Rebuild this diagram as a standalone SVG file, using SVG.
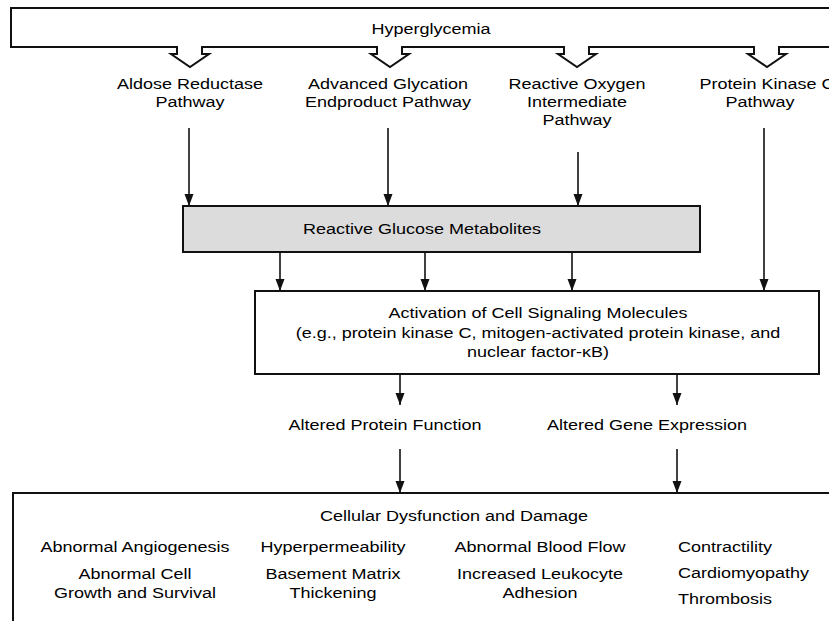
<svg xmlns="http://www.w3.org/2000/svg" width="829" height="621" viewBox="0 0 829 621">
<defs>
<style>
text{font-family:"Liberation Sans",Arial,sans-serif;font-size:15px;fill:#000;text-anchor:middle}
.box{fill:#fff;stroke:#111;stroke-width:2}
.gray{fill:#dcdcdc;stroke:#111;stroke-width:2}
.conn{stroke:#111;stroke-width:1.6;fill:none;marker-end:url(#a)}
.st{text-anchor:start}
</style>
<marker id="a" markerUnits="userSpaceOnUse" markerWidth="13" markerHeight="10" refX="12" refY="5" orient="auto" viewBox="0 0 13 10">
<path d="M0,0.5 L12,5 L0,9.5 Z" fill="#111"/>
</marker>
</defs>
<rect width="829" height="621" fill="#fff"/>

<g id="hyperglycemia">
<path class="box" d="M840 8 H11 V47 H177 V54 H171 L190 67 L209 54 H202 V47 H377 V54 H371 L390 67 L409 54 H402 V47 H564 V54 H558 L577 67 L596 54 H589 V47 H754 V54 H748 L767 67 L786 54 H779 V47 H840"/>
<text transform="translate(431 0) scale(1.2 1)" y="34">Hyperglycemia</text>
</g>

<g id="aldose">
<text transform="translate(190 0) scale(1.2 1)" y="89">Aldose Reductase</text>
<text transform="translate(190 0) scale(1.2 1)" y="107">Pathway</text>
</g>
<g id="age">
<text transform="translate(388 0) scale(1.2 1)" y="89">Advanced Glycation</text>
<text transform="translate(388 0) scale(1.2 1)" y="107">Endproduct Pathway</text>
</g>
<g id="roi">
<text transform="translate(577 0) scale(1.2 1)" y="89">Reactive Oxygen</text>
<text transform="translate(577 0) scale(1.2 1)" y="107">Intermediate</text>
<text transform="translate(577 0) scale(1.2 1)" y="125">Pathway</text>
</g>
<g id="pkc">
<text transform="translate(767 0) scale(1.2 1)" y="89">Protein Kinase C</text>
<text transform="translate(760 0) scale(1.2 1)" y="107">Pathway</text>
</g>

<g id="metabolites">
<rect class="gray" x="183" y="206" width="517" height="46"/>
<text transform="translate(422 0) scale(1.2 1)" y="234">Reactive Glucose Metabolites</text>
</g>

<g id="activation">
<rect class="box" x="255" y="291" width="564" height="83"/>
<text transform="translate(538 0) scale(1.2 1)" y="318">Activation of Cell Signaling Molecules</text>
<text transform="translate(538 0) scale(1.2 1)" y="338">(e.g., protein kinase C, mitogen-activated protein kinase, and</text>
<text transform="translate(538 0) scale(1.2 1)" y="357">nuclear factor-κB)</text>
</g>

<g id="protein-function">
<text transform="translate(385 0) scale(1.2 1)" y="430">Altered Protein Function</text>
</g>
<g id="gene-expression">
<text transform="translate(647 0) scale(1.2 1)" y="430">Altered Gene Expression</text>
</g>

<g id="dysfunction">
<rect class="box" x="13" y="493" width="830" height="140"/>
<text transform="translate(454 0) scale(1.2 1)" y="521">Cellular Dysfunction and Damage</text>
<text transform="translate(135 0) scale(1.2 1)" y="552">Abnormal Angiogenesis</text>
<text transform="translate(135 0) scale(1.2 1)" y="579">Abnormal Cell</text>
<text transform="translate(135 0) scale(1.2 1)" y="598">Growth and Survival</text>
<text transform="translate(333 0) scale(1.2 1)" y="552">Hyperpermeability</text>
<text transform="translate(333 0) scale(1.2 1)" y="579">Basement Matrix</text>
<text transform="translate(333 0) scale(1.2 1)" y="598">Thickening</text>
<text transform="translate(540 0) scale(1.2 1)" y="552">Abnormal Blood Flow</text>
<text transform="translate(540 0) scale(1.2 1)" y="579">Increased Leukocyte</text>
<text transform="translate(540 0) scale(1.2 1)" y="598">Adhesion</text>
<text class="st" transform="translate(678 0) scale(1.2 1)" y="552">Contractility</text>
<text class="st" transform="translate(678 0) scale(1.2 1)" y="578">Cardiomyopathy</text>
<text class="st" transform="translate(678 0) scale(1.2 1)" y="604">Thrombosis</text>
</g>

<g id="connectors">
<line class="conn" x1="189" y1="128" x2="189" y2="206"/>
<line class="conn" x1="388" y1="128" x2="388" y2="206"/>
<line class="conn" x1="578" y1="152" x2="578" y2="206"/>
<line class="conn" x1="764" y1="128" x2="764" y2="291"/>
<line class="conn" x1="280" y1="252" x2="280" y2="291"/>
<line class="conn" x1="425" y1="252" x2="425" y2="291"/>
<line class="conn" x1="572" y1="252" x2="572" y2="291"/>
<line class="conn" x1="400" y1="374" x2="400" y2="405"/>
<line class="conn" x1="677" y1="374" x2="677" y2="405"/>
<line class="conn" x1="400" y1="449" x2="400" y2="493"/>
<line class="conn" x1="677" y1="449" x2="677" y2="493"/>
</g>
</svg>
